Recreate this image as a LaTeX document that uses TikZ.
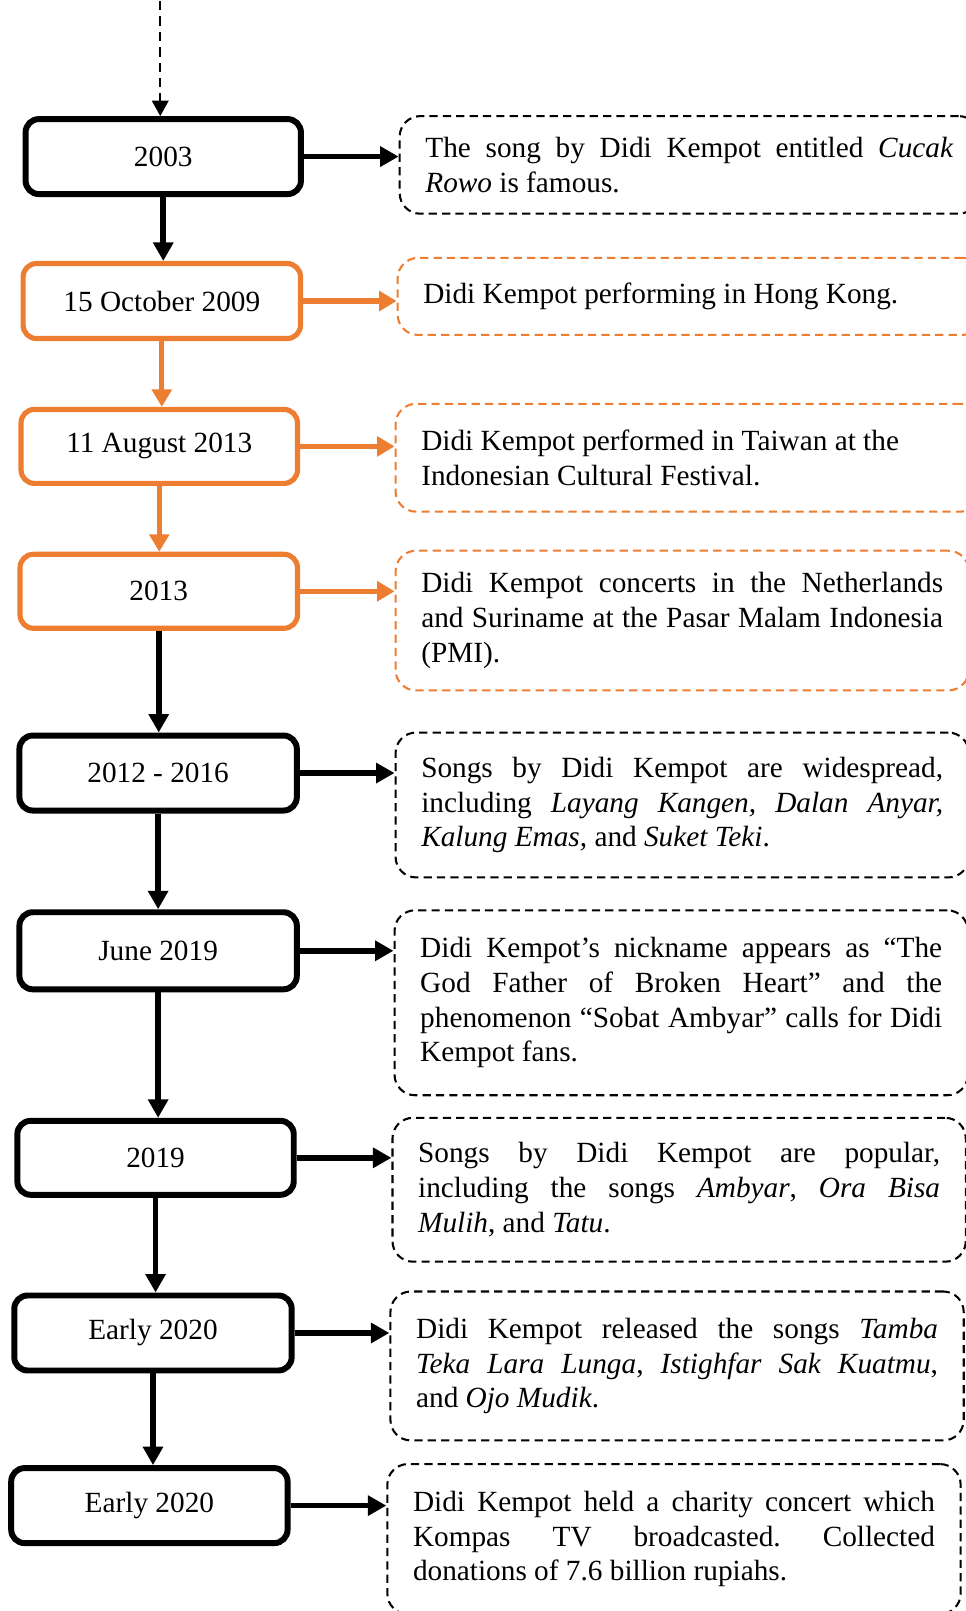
\documentclass[tikz,border=0pt]{standalone}
\usepackage{fontspec}
\setmainfont{Liberation Serif}
\usetikzlibrary{arrows.meta}
\definecolor{myorange}{RGB}{237,125,49}
\tolerance=10000
\hbadness=10000
\frenchspacing
\setlength{\parindent}{0pt}
\tikzset{
  txt/.style={font=\fontsize{28.5}{33.8}\selectfont\frenchspacing},
  yearbox/.style={txt, draw=black, line width=5.8pt, rounded corners=13pt, inner sep=0pt,
    anchor=north west, minimum height=73pt, minimum width=269pt, align=center},
  oyearbox/.style={yearbox, draw=myorange, line width=5pt},
  notebox/.style={txt, draw=black, line width=2pt, dash pattern=on 8pt off 5pt,
    rounded corners=20pt, anchor=north west, inner xsep=25pt, inner ysep=0pt,
    text width=508pt, align=justify},
  onotebox/.style={notebox, draw=myorange},
  harrow/.style={draw=black, line width=5.5pt, -{Triangle[length=18pt,width=19pt]}},
  oharrow/.style={color=myorange, line width=5pt, -{Triangle[length=17pt,width=19pt]}},
  toparrow/.style={draw=black, line width=2.2pt, dash pattern=on 9pt off 6pt,
    -{Triangle[length=15pt,width=16pt]}}
}
\begin{document}
\begin{tikzpicture}[x=1pt,y=1pt]
\useasboundingbox (0,0) rectangle (940,-1568);
\clip (0,0) rectangle (940,-1568);

% left year boxes
\node[yearbox, minimum width=268pt] (L1) at (22,-113) {2003};
\node[oyearbox, minimum width=270pt] (L2) at (20,-254) {15 October 2009};
\node[oyearbox, minimum height=72pt] (L3) at (18,-396) {11 August 2013};
\node[oyearbox, minimum width=270pt, minimum height=72pt] (L4) at (17,-537) {2013};
\node[yearbox, minimum width=270pt] (L5) at (16,-713) {2012 - 2016};
\node[yearbox, minimum width=270pt, minimum height=75pt] (L6) at (16,-885) {June 2019};
\node[yearbox, minimum height=72pt] (L7) at (14,-1088) {2019};
\node[yearbox, minimum width=270pt] (L8) at (11,-1258) {Early 2020};
\node[yearbox] (L9) at (8,-1426) {Early 2020};

% right note boxes
\node[notebox, text width=514pt, minimum height=95pt] (R1) at (388,-112)
  {The song by Didi Kempot entitled \textit{Cucak}\linebreak \textit{Rowo} is famous.};
\node[onotebox, text width=520pt, minimum height=75pt] (R2) at (386,-250)
  {Didi Kempot performing in Hong Kong.};
\node[onotebox, text width=520pt, minimum height=105pt] (R3) at (384,-392)
  {Didi Kempot performed in Taiwan at the\newline Indonesian Cultural Festival.};
\node[onotebox, minimum height=136pt] (R4) at (384,-535)
  {Didi Kempot concerts in the Netherlands\linebreak and Suriname at the Pasar Malam Indonesia\linebreak (PMI).};
\node[notebox, minimum height=141pt] (R5) at (384,-712)
  {Songs by Didi Kempot are widespread,\linebreak including \textit{Layang Kangen, Dalan Anyar,}\linebreak \textit{Kalung Emas,} and \textit{Suket Teki}.};
\node[notebox, minimum height=180pt] (R6) at (383,-885)
  {Didi Kempot’s nickname appears as “The\linebreak God Father of Broken Heart” and the\linebreak phenomenon “Sobat Ambyar” calls for Didi\linebreak Kempot fans.};
\node[notebox, minimum height=140pt] (R7) at (381,-1087)
  {Songs by Didi Kempot are popular,\linebreak including the songs \textit{Ambyar}, \textit{Ora Bisa}\linebreak \textit{Mulih}, and \textit{Tatu}.};
\node[notebox, minimum height=145pt] (R8) at (379,-1256)
  {Didi Kempot released the songs \textit{Tamba}\linebreak \textit{Teka Lara Lunga}, \textit{Istighfar Sak Kuatmu},\linebreak and \textit{Ojo Mudik}.};
\node[notebox, minimum height=146pt] (R9) at (376,-1424)
  {Didi Kempot held a charity concert which\linebreak Kompas TV broadcasted. Collected\linebreak donations of 7.6 billion rupiahs.};

% top dashed arrow
\coordinate (top) at (156,-1);
\draw[toparrow] (top) -- (top |- L1.north);

% vertical arrows
\draw[harrow] (L1.south) -- (L1.south |- L2.north);
\draw[oharrow] (L2.south) -- (L2.south |- L3.north);
\draw[oharrow] (L3.south) -- (L3.south |- L4.north);
\draw[harrow] (L4.south) -- (L4.south |- L5.north);
\draw[harrow] (L5.south) -- (L5.south |- L6.north);
\draw[harrow] (L6.south) -- (L6.south |- L7.north);
\draw[harrow] (L7.south) -- (L7.south |- L8.north);
\draw[harrow] (L8.south) -- (L8.south |- L9.north);

% horizontal arrows
\draw[harrow] (L1.east) -- (L1.east -| R1.west);
\draw[oharrow] (L2.east) -- (L2.east -| R2.west);
\draw[oharrow] (L3.east) -- (L3.east -| R3.west);
\draw[oharrow] (L4.east) -- (L4.east -| R4.west);
\draw[harrow] (L5.east) -- (L5.east -| R5.west);
\draw[harrow] (L6.east) -- (L6.east -| R6.west);
\draw[harrow] (L7.east) -- (L7.east -| R7.west);
\draw[harrow] (L8.east) -- (L8.east -| R8.west);
\draw[harrow] (L9.east) -- (L9.east -| R9.west);
\end{tikzpicture}
\end{document}
